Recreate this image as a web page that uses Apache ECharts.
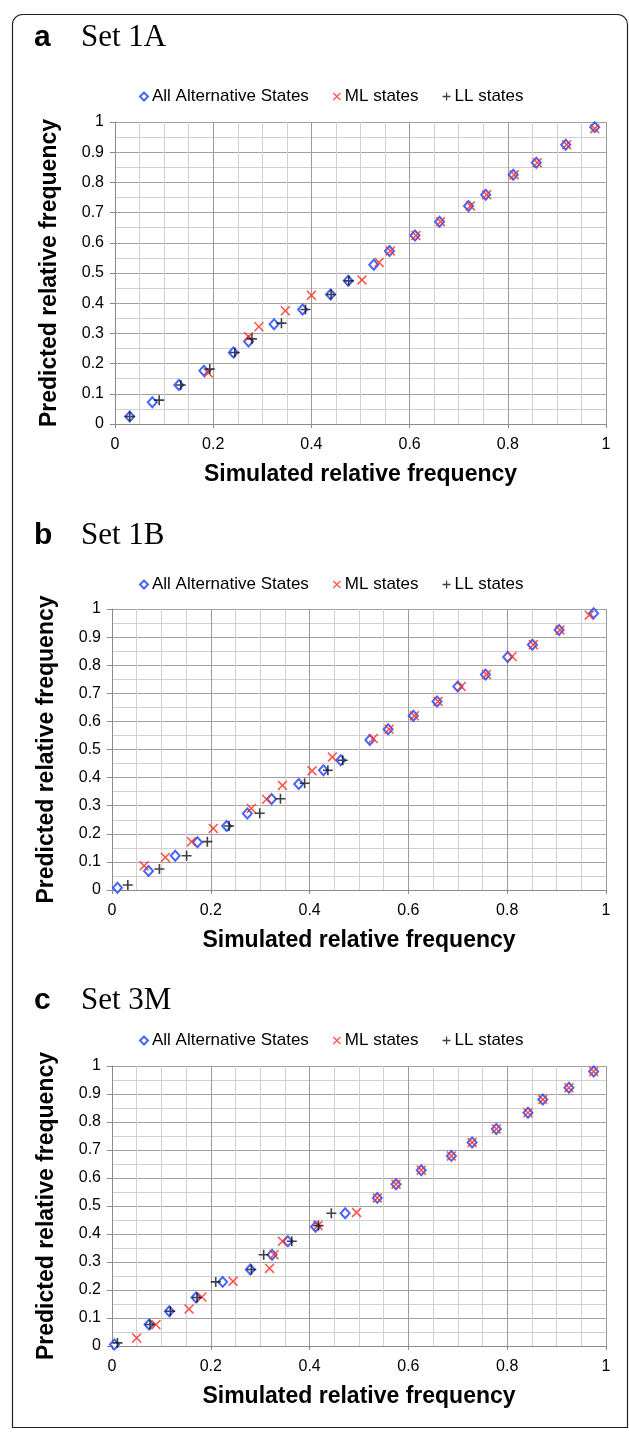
<!DOCTYPE html>
<html><head><meta charset="utf-8">
<script src="https://cdn.jsdelivr.net/npm/echarts@6/dist/echarts.min.js"></script>
<style>html,body{margin:0;padding:0;background:#fff}#c{width:629px;height:1434px}</style>
</head><body><div id="c"></div>
<script>
// ---- data ----
const panelLetters = ['a', 'b', 'c'];
const panelNames = ['Set 1A', 'Set 1B', 'Set 3M'];
const seriesNames = ['All Alternative States', 'ML states', 'LL states'];
const xTickValues = [0, 0.2, 0.4, 0.6, 0.8, 1];
const xTickLabels = ['0', '0.2', '0.4', '0.6', '0.8', '1'];
const yTickLabels = ['0', '0.1', '0.2', '0.3', '0.4', '0.5', '0.6', '0.7', '0.8', '0.9', '1'];
const xTitle = 'Simulated relative frequency';
const yTitle = 'Predicted relative frequency';

const allA = [[0.03,0.025],[0.076,0.072],[0.13,0.129],[0.181,0.176],[0.241,0.237],[0.272,0.273],[0.324,0.33],[0.382,0.379],[0.439,0.429],[0.475,0.474],[0.527,0.527],[0.559,0.573],[0.611,0.624],[0.661,0.67],[0.72,0.722],[0.755,0.759],[0.811,0.825],[0.858,0.865],[0.918,0.925],[0.977,0.983]];
const mlA = [[0.19,0.169],[0.272,0.289],[0.293,0.322],[0.347,0.375],[0.4,0.426],[0.503,0.477],[0.538,0.535],[0.561,0.573],[0.613,0.624],[0.663,0.67],[0.724,0.722],[0.757,0.759],[0.813,0.825],[0.86,0.865],[0.92,0.925],[0.977,0.978]];
const llA = [[0.03,0.025],[0.09,0.079],[0.134,0.129],[0.193,0.182],[0.244,0.237],[0.279,0.282],[0.339,0.334],[0.388,0.379],[0.44,0.429],[0.476,0.474]];

const allB = [[0.011,0.008],[0.074,0.068],[0.128,0.122],[0.173,0.17],[0.232,0.228],[0.274,0.272],[0.323,0.324],[0.378,0.377],[0.428,0.426],[0.463,0.462],[0.522,0.534],[0.559,0.572],[0.61,0.62],[0.658,0.671],[0.70,0.724],[0.756,0.767],[0.801,0.829],[0.851,0.873],[0.905,0.925],[0.975,0.985]];
const mlB = [[0.065,0.086],[0.108,0.116],[0.161,0.172],[0.205,0.219],[0.282,0.29],[0.313,0.323],[0.345,0.372],[0.405,0.424],[0.446,0.473],[0.529,0.539],[0.561,0.572],[0.612,0.62],[0.66,0.671],[0.707,0.724],[0.758,0.767],[0.81,0.831],[0.853,0.873],[0.907,0.925],[0.966,0.978]];
const llB = [[0.032,0.018],[0.096,0.075],[0.151,0.122],[0.193,0.172],[0.237,0.228],[0.299,0.273],[0.341,0.325],[0.39,0.38],[0.437,0.426],[0.467,0.462]];

const allC = [[0.005,0.005],[0.075,0.077],[0.116,0.124],[0.17,0.173],[0.224,0.229],[0.28,0.273],[0.324,0.326],[0.356,0.374],[0.412,0.426],[0.472,0.474],[0.537,0.529],[0.575,0.578],[0.626,0.628],[0.687,0.679],[0.729,0.727],[0.778,0.775],[0.842,0.833],[0.872,0.88],[0.925,0.922],[0.975,0.98]];
const mlC = [[0.05,0.029],[0.089,0.076],[0.156,0.132],[0.182,0.175],[0.245,0.231],[0.319,0.277],[0.328,0.326],[0.345,0.374],[0.417,0.43],[0.495,0.477],[0.537,0.529],[0.575,0.578],[0.626,0.628],[0.687,0.679],[0.729,0.727],[0.778,0.775],[0.842,0.833],[0.872,0.88],[0.925,0.922],[0.975,0.98]];
const llC = [[0.011,0.011],[0.077,0.077],[0.118,0.124],[0.172,0.173],[0.21,0.229],[0.282,0.273],[0.307,0.326],[0.364,0.374],[0.418,0.43],[0.444,0.474]];

const panelData = [[allA, mlA, llA], [allB, mlB, llB], [allC, mlC, llC]];

// ---- layout ----
const layouts = [
  {top: 122, height: 302, left: 115, width: 491, titleY: 40, legendTop: 83},
  {top: 609, height: 281, left: 112, width: 494, titleY: 538, legendTop: 571},
  {top: 1066, height: 280, left: 112, width: 494, titleY: 1003, legendTop: 1027}
];
const SANS = '"Liberation Sans", Arial, sans-serif';
const SERIF = '"Liberation Serif", "Times New Roman", serif';
const PLUS = 'path://M4.2,0H5.8V4.2H10V5.8H5.8V10H4.2V5.8H0V4.2H4.2Z';
const CROSS = 'path://M0,1.1L1.1,0L5,3.9L8.9,0L10,1.1L6.1,5L10,8.9L8.9,10L5,6.1L1.1,10L0,8.9L3.9,5Z';
const colors = ['#1a3dff', '#ff2a1a', '#111'];
const symbols = ['emptyDiamond', CROSS, PLUS];
const sizes = [[9, 10], 10, 10];

const grid = [], xAxis = [], yAxis = [], series = [], legend = [], graphic = [];
layouts.forEach((L, i) => {
  grid.push({left: L.left, top: L.top, width: L.width, height: L.height, containLabel: false});
  xAxis.push({
    type: 'value', gridIndex: i, min: 0, max: 1, interval: 0.2,
    name: xTitle, nameLocation: 'middle', nameGap: 39,
    nameTextStyle: {fontFamily: SANS, fontWeight: 'bold', fontSize: 23, color: '#000'},
    axisLine: {show: true, lineStyle: {color: '#8a8a8a', width: 1}},
    axisTick: {show: true, length: 4, lineStyle: {color: '#8a8a8a'}},
    axisLabel: {fontFamily: SANS, fontSize: 16, color: '#000', margin: 13,
      formatter: v => { const k = xTickValues.findIndex(t => Math.abs(t - v) < 1e-6); return k >= 0 ? xTickLabels[k] : ''; }},
    splitLine: {show: true, lineStyle: {color: '#9a9a9a', width: 1}},
    minorTick: {show: true, splitNumber: 4, length: 0},
    minorSplitLine: {show: true, lineStyle: {color: '#d0d0d0', width: 1}}
  });
  yAxis.push({
    type: 'value', gridIndex: i, min: 0, max: 1, interval: 0.1,
    name: yTitle, nameLocation: 'middle', nameGap: 54,
    nameTextStyle: {fontFamily: SANS, fontWeight: 'bold', fontSize: 23, color: '#000'},
    axisLine: {show: true, lineStyle: {color: '#8a8a8a', width: 1}},
    axisTick: {show: true, length: 5, lineStyle: {color: '#8a8a8a'}},
    axisLabel: {fontFamily: SANS, fontSize: 16, color: '#000', margin: 11,
      formatter: v => yTickLabels[Math.round(v * 10)]},
    splitLine: {show: true, lineStyle: {color: '#a0a0a0', width: 1}},
    minorTick: {show: true, splitNumber: 2, length: 0},
    minorSplitLine: {show: true, lineStyle: {color: '#d0d0d0', width: 1}}
  });
  panelData[i].forEach((d, s) => {
    series.push({
      type: 'scatter', name: seriesNames[s], xAxisIndex: i, yAxisIndex: i, data: d,
      symbol: symbols[s], symbolSize: sizes[s], z: 2 + s,
      itemStyle: s === 0 ? {color: colors[0], borderColor: colors[0], borderWidth: 1.6} : {color: colors[s]},
      emphasis: {disabled: true}, silent: true
    });
  });
  legend.push({
    top: L.legendTop, left: 134, orient: 'horizontal', itemGap: 24, itemWidth: 8, itemHeight: 8,
    selectedMode: false,
    textStyle: {fontFamily: SANS, fontSize: 17, color: '#000', padding: [0, 0, 0, -1]},
    data: seriesNames.map((n, s) => ({name: n, icon: symbols[s]}))
  });
  graphic.push({type: 'text', left: 34, top: L.titleY - 17,
    style: {text: panelLetters[i], font: 'bold 30px ' + SANS, fill: '#000'}});
  graphic.push({type: 'text', left: 81, top: L.titleY - 18,
    style: {text: panelNames[i], font: '31px ' + SERIF, fill: '#000'}});
});
graphic.push({type: 'rect', left: 10, top: 12, z: -1,
  shape: {width: 615, height: 1413, r: [10, 10, 0, 0]},
  style: {fill: 'none', stroke: '#222', lineWidth: 1.2}});

const chart = echarts.init(document.getElementById('c'), null, {renderer: 'canvas'});
chart.setOption({animation: false, backgroundColor: '#fff', grid, xAxis, yAxis, series, legend, graphic});
</script></body></html>
